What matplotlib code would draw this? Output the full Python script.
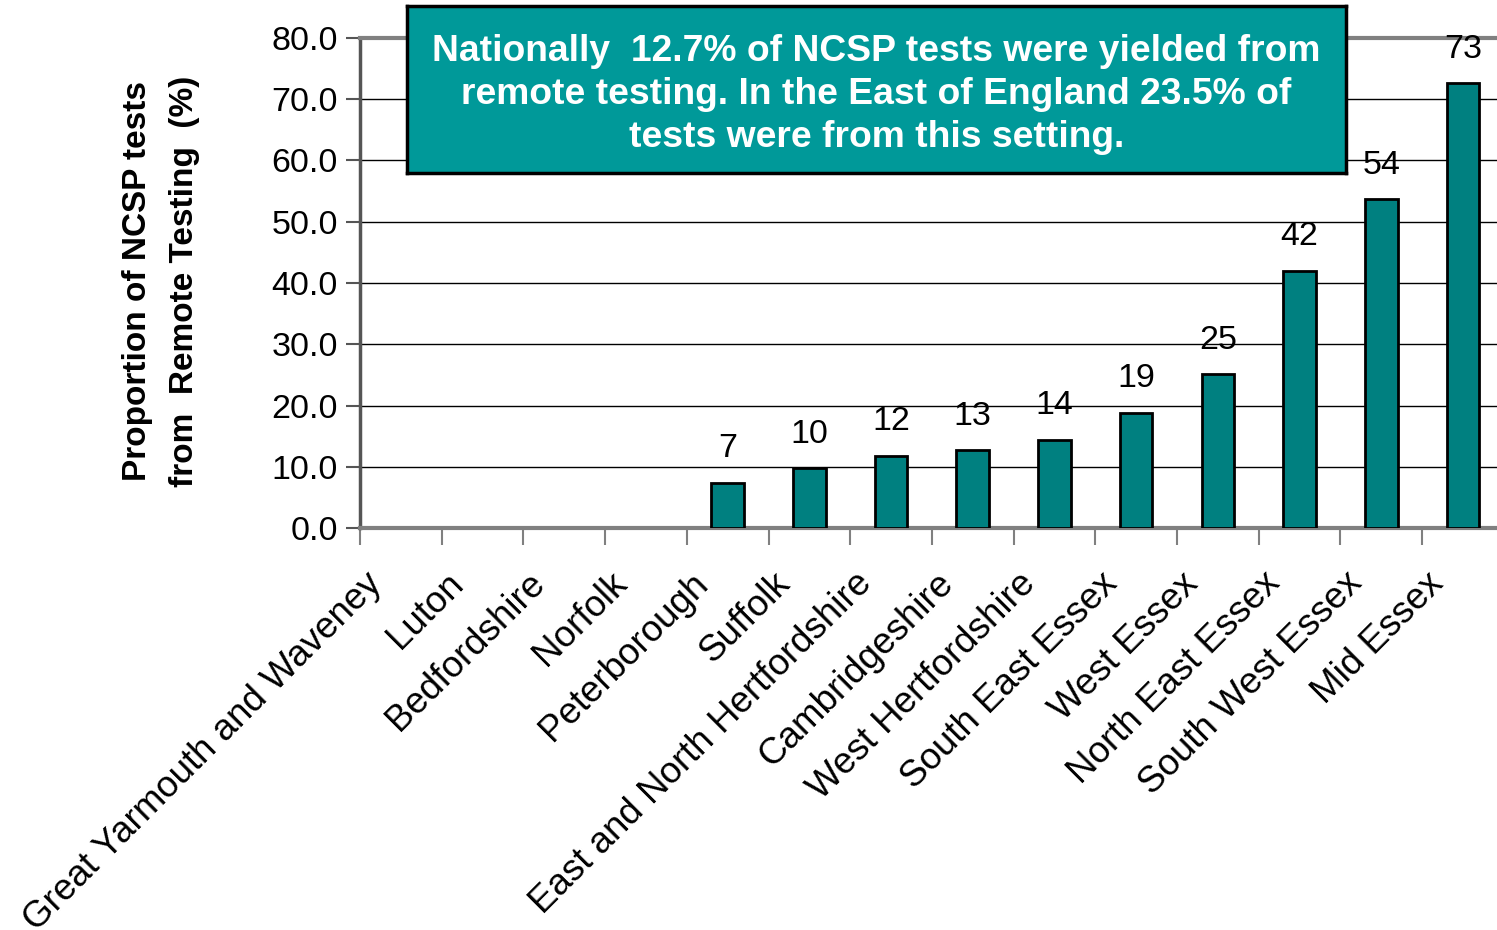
import matplotlib
matplotlib.use("Agg")
import matplotlib.pyplot as plt
import numpy as np

plt.rcParams['font.family'] = ['Liberation Sans', 'DejaVu Sans']

areas = ["Great Yarmouth and Waveney", "Luton", "Bedfordshire", "Norfolk",
         "Peterborough", "Suffolk", "East and North Hertfordshire",
         "Cambridgeshire", "West Hertfordshire", "South East Essex",
         "West Essex", "North East Essex", "South West Essex", "Mid Essex"]
remote_pct = [0.0, 0.0, 0.0, 0.0, 7.4, 9.8, 11.8, 12.7, 14.4, 18.8,
              25.1, 42.0, 53.7, 72.6]
yticks = [0, 10, 20, 30, 40, 50, 60, 70, 80]

note = ("Nationally  12.7% of NCSP tests were yielded from\n"
        "remote testing. In the East of England 23.5% of\n"
        "tests were from this setting.")

fig = plt.figure(figsize=(14.97, 9.30), dpi=100)
ax = fig.add_axes([360 / 1497, 1 - 528 / 930, 14 * 81.7 / 1497, 490 / 930])

x = np.arange(len(areas))
ax.bar(x, remote_pct, width=0.40, color="#008080", edgecolor="black",
       linewidth=[2 if v > 0 else 0 for v in remote_pct], zorder=3)
for xi, v in zip(x, remote_pct):
    if v > 0:
        ax.text(xi, v + 3.0, f"{v:.0f}", ha="center", va="bottom",
                fontsize=24.5, color="black")

ax.set_xlim(-0.5, len(areas) - 0.5)
ax.set_ylim(0, 80)
ax.set_yticks(yticks)
ax.set_yticklabels([f"{t:.1f}" for t in yticks], fontsize=24.5)
ax.yaxis.grid(True, color="black", linewidth=1)
ax.set_axisbelow(True)

# category boundaries carry the tick marks
ax.set_xticks(np.arange(len(areas) + 1) - 0.5)
ax.set_xticklabels([])
ax.tick_params(axis="x", length=12, width=1.5, color="#808080", direction="out")
ax.tick_params(axis="y", length=10, width=1.5, color="#555555", direction="out", pad=6)

for i, name in enumerate(areas):
    ax.text(i - 0.3, -8.2, name, rotation=45, rotation_mode="anchor",
            ha="right", va="center", fontsize=26.5)

ax.spines["top"].set_color("#808080")
ax.spines["top"].set_linewidth(3)
ax.spines["right"].set_visible(False)
ax.spines["left"].set_color("#555555")
ax.spines["left"].set_linewidth(2.5)
ax.spines["bottom"].set_color("#808080")
ax.spines["bottom"].set_linewidth(3)

fig.text(161 / 1497, 1 - 281 / 930, "Proportion of NCSP tests\nfrom  Remote Testing  (%)",
         rotation=90, ha="center", va="center", fontsize=24, fontweight="bold",
         linespacing=1.65)

box = fig.add_axes([407 / 1497, 1 - 173 / 930, (1346 - 407) / 1497, (173 - 6) / 930])
box.set_facecolor("#009999")
box.set_xticks([])
box.set_yticks([])
for s in box.spines.values():
    s.set_color("black")
    s.set_linewidth(2.5)
box.text(0.5, 0.47, note, ha="center", va="center", color="white",
         fontsize=26.8, fontweight="bold", linespacing=1.3,
         transform=box.transAxes)

fig.savefig("out.png", dpi=100)
